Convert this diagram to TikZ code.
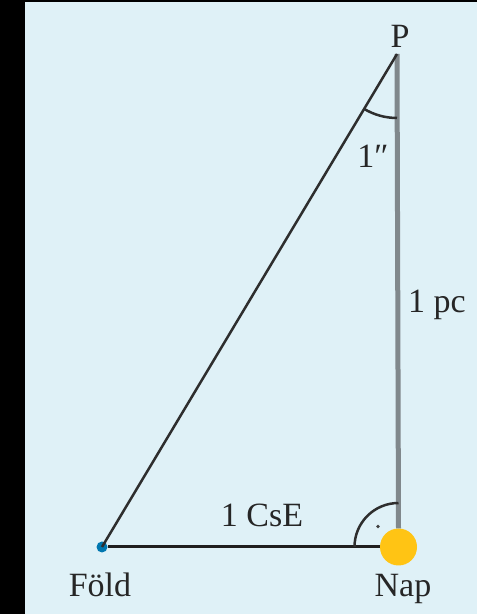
\documentclass[tikz,border=0pt]{standalone}
\usepackage{fontspec}
\setmainfont{Liberation Serif}
\begin{document}
\begin{tikzpicture}[x=1pt,y=1pt,
  lbl/.style={font=\fontsize{34}{40}\selectfont, text=black!85, inner sep=0pt, anchor=base},
  hline/.style={draw=black!88, line width=3pt},
  aline/.style={draw=black!82, line width=2.5pt}]
\definecolor{bgblue}{HTML}{DFF1F7}
\definecolor{sunyel}{HTML}{FFC414}
\definecolor{earthblue}{HTML}{0077B0}
\definecolor{vgray}{HTML}{80888C}
\useasboundingbox (0,0) rectangle (477,614);
\fill[black] (0,0) rectangle (477,614);
\fill[bgblue] (25,0) rectangle (477,612);
% points
\coordinate (P) at (397,560);
\node[circle, fill=earthblue, minimum size=11pt, inner sep=0pt] (fold) at (102,67) {};
\node[circle, fill=sunyel, minimum size=37pt, inner sep=0pt] (nap) at (398.5,67) {};
% lines
\draw[draw=vgray, line width=5pt] (P) -- (nap.north);
\draw[hline] (fold.east) -- (nap.west);
\draw[aline] (fold.center) -- (P);
% angle arcs
\draw[aline] ([shift={(239.05:64)}]P) arc[start angle=239.05, end angle=270, radius=64];
\draw[aline] ([shift={(180:44)}]nap.center) arc[start angle=180, end angle=90, radius=44];
\fill[black!75] ([shift={(135:29)}]nap.center) circle (1.8);
% labels
\node[lbl] (lP) at (400,566) {P};
\node[lbl] (lang) at (373,446) {1″};
\node[lbl] (lpc) at (437,301) {1 pc};
\node[lbl] (lcse) at (262,87) {1 CsE};
\node[lbl] (lfold) at (100,17) {Föld};
\node[lbl] (lnap) at (403,17) {Nap};
\end{tikzpicture}
\end{document}
